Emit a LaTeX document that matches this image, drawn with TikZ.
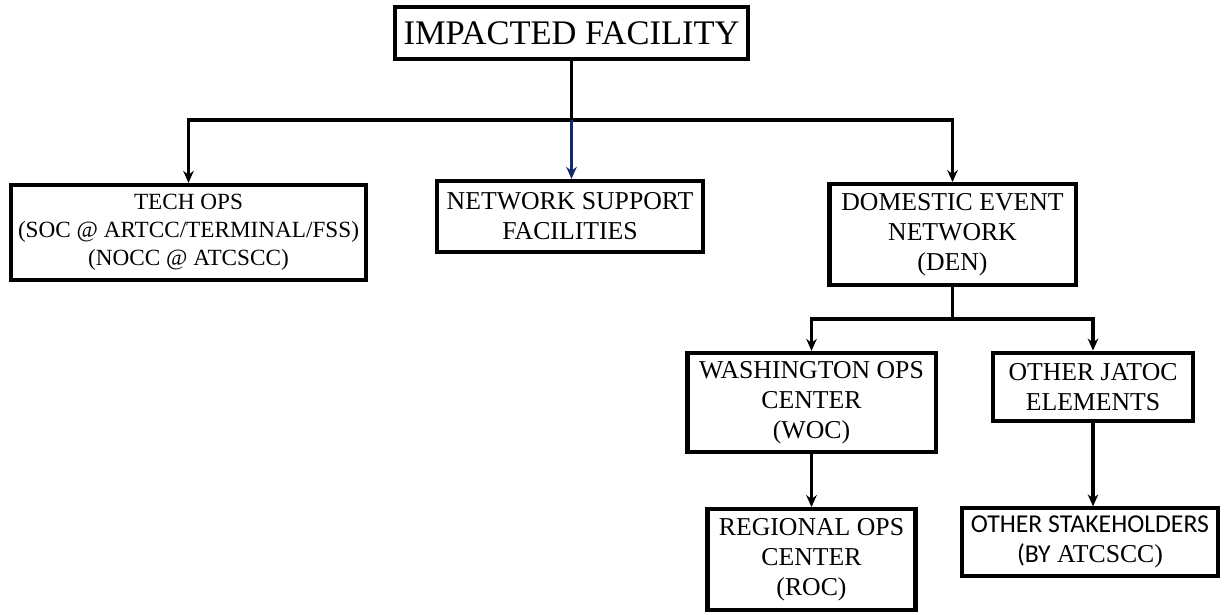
\documentclass[tikz,border=0pt]{standalone}
\usepackage{fontspec}
\setmainfont{Liberation Serif}
\newfontfamily\calfont{Carlito}
\usetikzlibrary{arrows.meta}
\definecolor{navyline}{RGB}{20,40,110}
\begin{document}
\begin{tikzpicture}[x=0.025cm, y=-0.025cm,
  box/.style={draw, line width=2.9pt, align=center, inner sep=0pt,
    font=\fontsize{18.3}{21.3}\selectfont},
  link/.style={line width=2.5pt, -{Stealth[length=8.5pt,width=7.5pt]}}]
\useasboundingbox (0,0) rectangle (1225,614);
\node[box, minimum width=8.8cm, minimum height=1.28cm, font=\fontsize{24.5}{26}\selectfont] (imp) at (571.5,33) {IMPACTED FACILITY};
\node[box, minimum width=8.85cm, minimum height=2.38cm, font=\fontsize{16.5}{20}\selectfont] (tech) at (188.5,232.5) {TECH OPS\\(SOC @ ARTCC/TERMINAL/FSS)\\(NOCC @ ATCSCC)};
\node[box, minimum width=6.65cm, minimum height=1.78cm] (net) at (570,216.5) {NETWORK SUPPORT\\FACILITIES};
\node[box, minimum width=6.15cm, minimum height=2.52cm] (den) at (952.5,234.5) {DOMESTIC EVENT\\NETWORK\\(DEN)};
\node[box, minimum width=6.2cm, minimum height=2.48cm] (woc) at (811.5,402.5) {WASHINGTON OPS\\CENTER\\(WOC)};
\node[box, minimum width=5cm, minimum height=1.72cm] (jatoc) at (1093,387) {OTHER JATOC\\ELEMENTS};
\node[box, minimum width=5.2cm, minimum height=2.52cm] (roc) at (811.5,559.5) {REGIONAL OPS\\CENTER\\(ROC)};
\node[box, minimum width=6.4cm, minimum height=1.68cm] (stake) at (1090,542) {{\calfont OTHER STAKEHOLDERS}\\{\calfont (BY} ATCSCC)};
\coordinate (split) at (571.5,120);
\coordinate (densplit) at (952.5,319);
\draw[line width=2.5pt] (imp.south) -- (split);
\draw[link] (split) -| (tech.north);
\draw[link] (split) -| (den.north);
\draw[link, navyline] (split) -- (split |- net.north);
\draw[line width=2.5pt] (den.south) -- (densplit);
\draw[link] (densplit) -| (woc.north);
\draw[link] (densplit) -| (jatoc.north);
\draw[link] (woc.south) -- (roc.north);
\draw[link] (jatoc.south) -- (jatoc.south |- stake.north);
\end{tikzpicture}
\end{document}
